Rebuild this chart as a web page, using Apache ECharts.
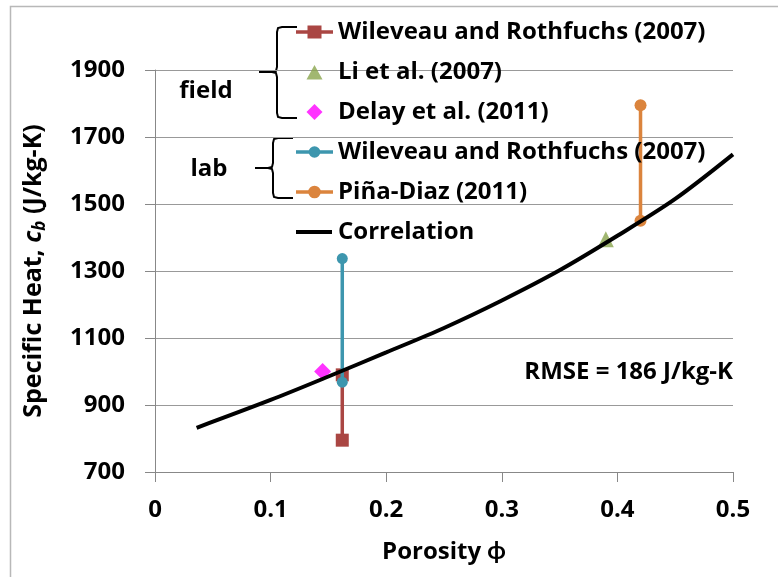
<!DOCTYPE html>
<html>
<head>
<meta charset="utf-8">
<script src="https://cdn.jsdelivr.net/npm/echarts@6/dist/echarts.min.js"></script>
<style>
html,body{margin:0;padding:0;background:#fff;}
#chart{width:778px;height:577px;}
</style>
</head>
<body>
<div id="chart"></div>
<script>
// ---- data ----
const corrPorosity = [0.036, 0.1, 0.15, 0.2, 0.25, 0.3, 0.35, 0.4, 0.45, 0.5];
const corrHeat     = [832, 915, 985, 1057, 1130, 1212, 1302, 1405, 1515, 1648];

const wileveauFieldPorosity = [0.162, 0.162];
const wileveauFieldHeat     = [795, 990];
const liPorosity = [0.39];
const liHeat     = [1395];
const delayPorosity = [0.145];
const delayHeat     = [1000];
const wileveauLabPorosity = [0.162, 0.162];
const wileveauLabHeat     = [968, 1337];
const pinaPorosity = [0.42, 0.42];
const pinaHeat     = [1450, 1795];

const legendLabels = [
  'Wileveau and Rothfuchs (2007)',
  'Li et al. (2007)',
  'Delay et al. (2011)',
  'Wileveau and Rothfuchs (2007)',
  'Piña-Diaz (2011)',
  'Correlation'
];
const seriesKeys = ['wf', 'li', 'delay', 'wl', 'pina', 'corr'];

const xTicks = [0, 0.5, 0.1];      // min, max, interval
const yTicks = [700, 1900, 200];   // min, max, interval

function pairs(xs, ys) { return xs.map((x, i) => [x, ys[i]]); }

const FONT = '"Open Sans", Lato, "DejaVu Sans", sans-serif';
const COLORS = {wf: '#AA4643', li: '#89A54E', delay: '#FF00FF', wl: '#3D96AE', pina: '#DB843D', corr: '#000000'};
const labelMap = {};
seriesKeys.forEach((k, i) => labelMap[k] = legendLabels[i]);

// legend icon glyphs drawn in a 37 x 16 box (tiny corner dots fix the box size)
const CORNERS = ' M0,0 L0.01,0 L0,0.01 Z M37,16 L36.99,16 L37,15.99 Z';
function circlePath(cx, cy, r) {
  return 'M' + (cx - r) + ',' + cy + ' A' + r + ',' + r + ' 0 1,1 ' + (cx + r) + ',' + cy +
         ' A' + r + ',' + r + ' 0 1,1 ' + (cx - r) + ',' + cy + ' Z ';
}
const LINE = 'M0,6.25 L37,6.25 L37,9.75 L0,9.75 Z ';
const ICONS = {
  wf: 'path://' + LINE + 'M11.5,1.5 L25.5,1.5 L25.5,14.5 L11.5,14.5 Z' + CORNERS,
  li: 'path://M10.5,15.5 L18.5,1 L26.5,15.5 Z' + CORNERS,
  delay: 'path://M18.5,0 L26.5,8 L18.5,16 L10.5,8 Z' + CORNERS,
  wl: 'path://' + LINE + circlePath(18.5, 8, 5.8) + CORNERS,
  pina: 'path://' + LINE + circlePath(18.5, 8, 6.3) + CORNERS,
  corr: 'path://M0,6 L36,6 L36,10 L0,10 Z' + CORNERS
};

const chart = echarts.init(document.getElementById('chart'), null, {renderer: 'canvas'});

function bracket(xTip, xBar, xEnd, yTop, yMid, yBot) {
  const r = 5;
  return [
    {type: 'polyline', silent: true,
     shape: {points: [[xEnd, yTop], [xBar + r, yTop], [xBar + 1, yTop + 1], [xBar, yTop + r], [xBar, yMid - r], [xBar - 1, yMid - 1], [xBar - r, yMid], [xTip, yMid]]},
     style: {fill: 'none', stroke: '#000', lineWidth: 2}},
    {type: 'polyline', silent: true,
     shape: {points: [[xEnd, yBot], [xBar + r, yBot], [xBar + 1, yBot - 1], [xBar, yBot - r], [xBar, yMid + r], [xBar - 1, yMid + 1], [xBar - r, yMid]]},
     style: {fill: 'none', stroke: '#000', lineWidth: 2}}
  ];
}

const option = {
  backgroundColor: '#ffffff',
  animation: false,
  grid: {left: 155, right: 45, top: 70, bottom: 105, containLabel: false},
  legend: {
    orient: 'vertical',
    left: 296,
    top: 20,
    padding: 0,
    itemWidth: 37,
    itemHeight: 16,
    itemGap: 16,
    data: seriesKeys.map(k => ({name: k, icon: ICONS[k], itemStyle: {color: COLORS[k], borderWidth: 0}})),
    formatter: name => labelMap[name],
    textStyle: {fontFamily: FONT, fontWeight: 'bold', fontSize: 24, color: '#000', lineHeight: 24},
    selectedMode: false
  },
  xAxis: {
    type: 'value',
    min: xTicks[0], max: xTicks[1], interval: xTicks[2],
    name: 'Porosity ϕ',
    nameLocation: 'middle',
    nameGap: 68,
    nameTextStyle: {fontFamily: FONT, fontWeight: 'bold', fontSize: 24, color: '#000'},
    axisLine: {show: true, lineStyle: {color: '#888', width: 1}},
    axisTick: {show: true, inside: false, length: 10, lineStyle: {color: '#888'}},
    axisLabel: {margin: 26, fontFamily: FONT, fontWeight: 'bold', fontSize: 24, color: '#000', formatter: v => String(v)},
    splitLine: {show: false}
  },
  yAxis: {
    type: 'value',
    min: yTicks[0], max: yTicks[1], interval: yTicks[2],
    name: 'Specific Heat, {i|c}{sub|b} (J/kg-K)',
    nameLocation: 'middle',
    nameGap: 106,
    nameRotate: 90,
    nameTextStyle: {
      fontFamily: FONT, fontWeight: 'bold', fontSize: 25, color: '#000', lineHeight: 30,
      rich: {
        i: {fontFamily: FONT, fontWeight: 'bold', fontStyle: 'italic', fontSize: 25, color: '#000', lineHeight: 30},
        sub: {fontFamily: FONT, fontWeight: 'bold', fontStyle: 'italic', fontSize: 17, color: '#000', lineHeight: 30, verticalAlign: 'bottom'}
      }
    },
    axisLine: {show: true, lineStyle: {color: '#888', width: 1}},
    axisTick: {show: true, inside: false, length: 10, lineStyle: {color: '#888'}},
    axisLabel: {margin: 30, fontFamily: FONT, fontWeight: 'bold', fontSize: 24, color: '#000', formatter: v => String(v)},
    splitLine: {show: true, lineStyle: {color: '#999', width: 1}}
  },
  series: [
    {
      name: 'wf', type: 'line', data: pairs(wileveauFieldPorosity, wileveauFieldHeat),
      symbol: 'rect', symbolSize: 13, showAllSymbol: true,
      lineStyle: {color: COLORS.wf, width: 3.5}, itemStyle: {color: COLORS.wf}, z: 2
    },
    {
      name: 'li', type: 'scatter', data: pairs(liPorosity, liHeat),
      symbol: 'triangle', symbolSize: 16, itemStyle: {color: COLORS.li}, z: 2
    },
    {
      name: 'delay', type: 'scatter', data: pairs(delayPorosity, delayHeat),
      symbol: 'diamond', symbolSize: 17, itemStyle: {color: COLORS.delay}, z: 2
    },
    {
      name: 'wl', type: 'line', data: pairs(wileveauLabPorosity, wileveauLabHeat),
      symbol: 'circle', symbolSize: 11, showAllSymbol: true,
      lineStyle: {color: COLORS.wl, width: 3.5}, itemStyle: {color: COLORS.wl}, z: 3
    },
    {
      name: 'pina', type: 'line', data: pairs(pinaPorosity, pinaHeat),
      symbol: 'circle', symbolSize: 12, showAllSymbol: true,
      lineStyle: {color: COLORS.pina, width: 3.5}, itemStyle: {color: COLORS.pina}, z: 3
    },
    {
      name: 'corr', type: 'line', data: pairs(corrPorosity, corrHeat),
      symbol: 'none', smooth: 0.3,
      lineStyle: {color: COLORS.corr, width: 4}, itemStyle: {color: COLORS.corr}, z: 4
    }
  ],
  graphic: [
    {
      type: 'rect', silent: true, z: -10,
      shape: {x: 10.5, y: 6.5, width: 800, height: 600},
      style: {fill: 'none', stroke: '#b8b8b8', lineWidth: 1.5}
    },
    ...bracket(259, 277, 297, 27, 72, 118),
    ...bracket(255, 273, 293, 138, 168, 198),
    {
      type: 'text', silent: true, x: 206, y: 91,
      style: {text: 'field', fontFamily: FONT, fontWeight: 'bold', fontSize: 24, fill: '#000', align: 'center', verticalAlign: 'middle'}
    },
    {
      type: 'text', silent: true, x: 209, y: 169,
      style: {text: 'lab', fontFamily: FONT, fontWeight: 'bold', fontSize: 24, fill: '#000', align: 'center', verticalAlign: 'middle'}
    },
    {
      type: 'text', silent: true, x: 733, y: 372,
      style: {text: 'RMSE = 186 J/kg-K', fontFamily: FONT, fontWeight: 'bold', fontSize: 24, fill: '#000', align: 'right', verticalAlign: 'middle'}
    }
  ]
};
chart.setOption(option);
</script>
</body>
</html>
